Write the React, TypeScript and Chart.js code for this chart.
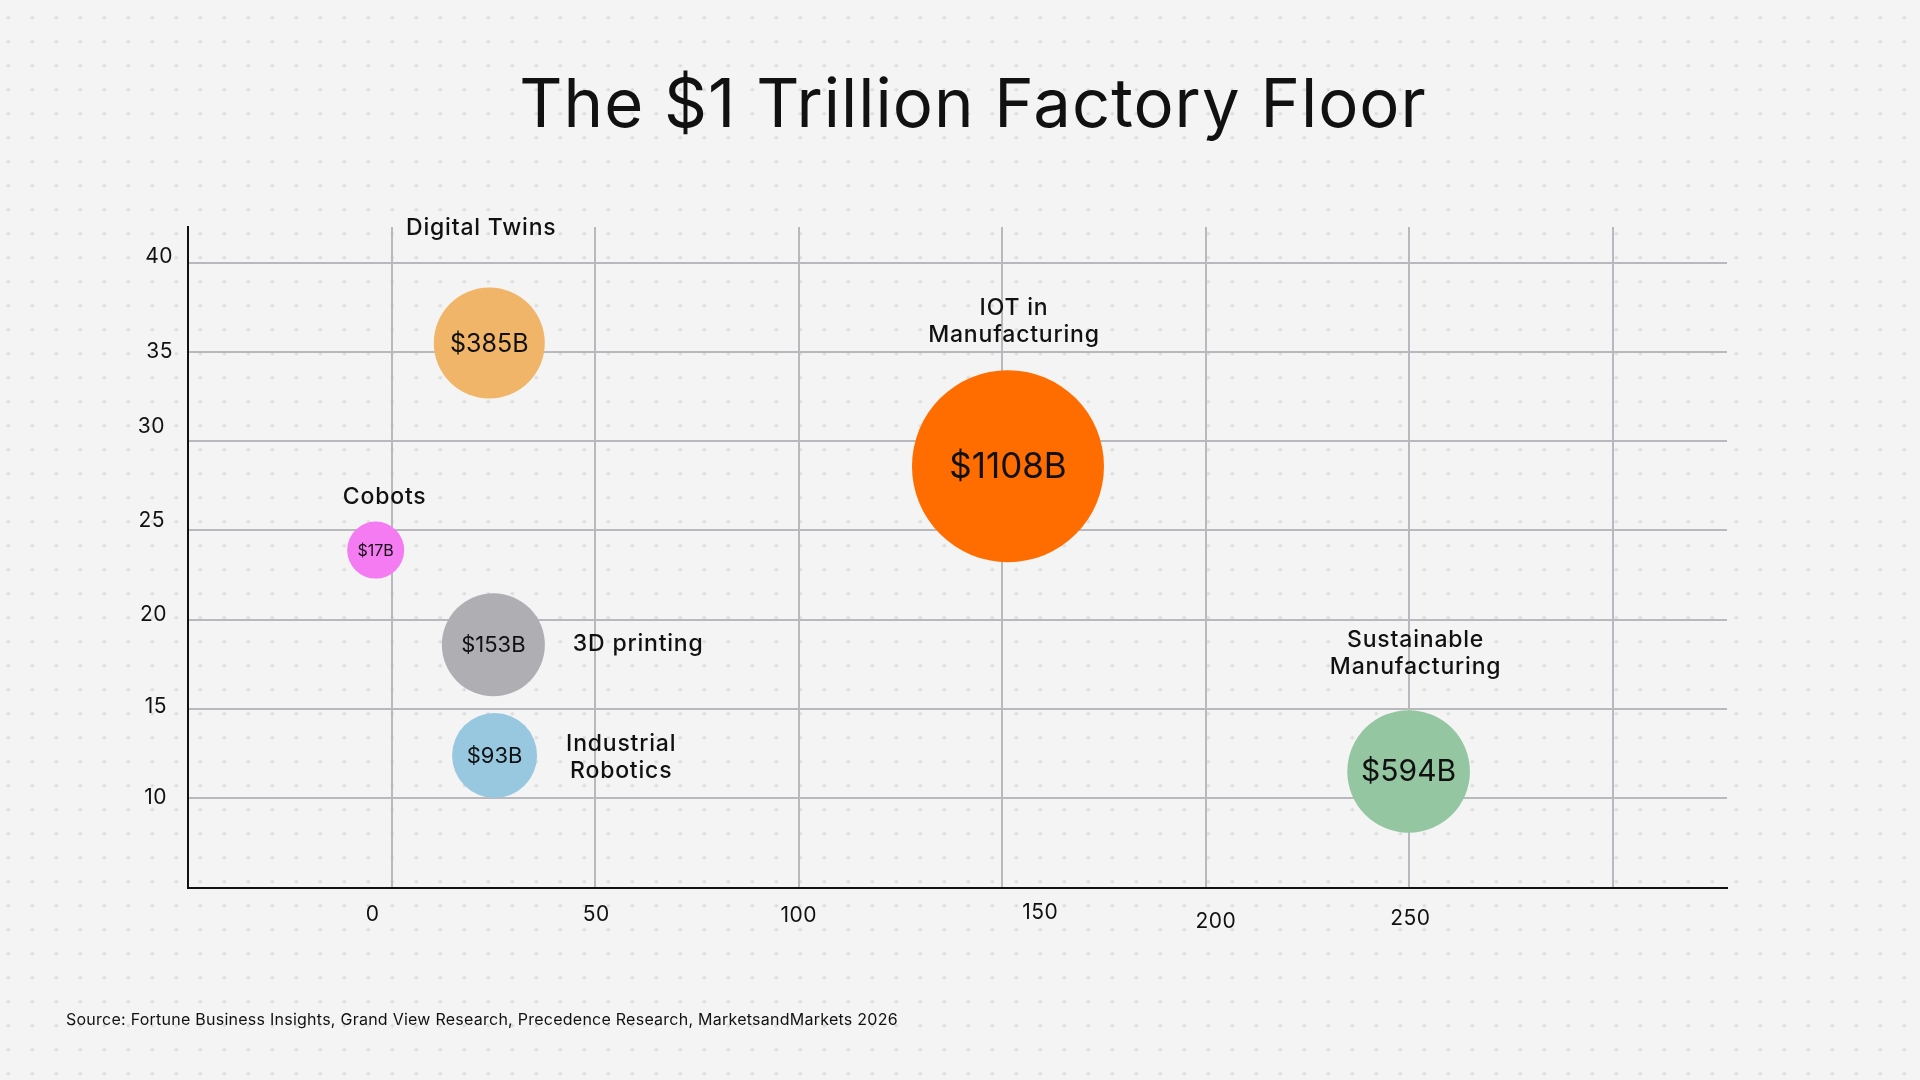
import { useEffect, useRef } from "react";
import { Chart, registerables } from "chart.js";

Chart.register(...registerables);

// ---- data ----
const categories: string[][] = [
  ["Digital Twins"],
  ["IOT in", "Manufacturing"],
  ["Cobots"],
  ["3D printing"],
  ["Industrial", "Robotics"],
  ["Sustainable", "Manufacturing"],
];
const xValues = [24, 151.4, -3.9, 25, 25.3, 249.8];
const yValues = [35.5, 28.6, 23.9, 18.6, 12.4, 11.5];
const marketSizeB = [385, 1108, 17, 153, 93, 594];
const bubbleRadius = [55.5, 96, 28.5, 51.5, 42.5, 61.3];

const xTicks = [0, 50, 100, 150, 200, 250, 300];
const xTickLabels = ["0", "50", "100", "150", "200", "250", ""];
const yTicks = [10, 15, 20, 25, 30, 35, 40];
const yTickLabels = ["10", "15", "20", "25", "30", "35", "40"];

const titleText = "The $1 Trillion Factory Floor";
const sourceText =
  "Source: Fortune Business Insights, Grand View Research, Precedence Research, MarketsandMarkets 2026";

// ---- styling ----
const FONT = "Inter, 'Noto Sans', sans-serif";
const INK = "#111111";
const GRID = "#b9b9bd";
const bubbleColors = ["#F0B568", "#FF6D00", "#F47BF2", "#AEAEB3", "#97C8E0", "#93C6A1"];
const valueFontPx = [25, 35, 16, 22, 22, 30];
type LabelLayout = { side: "top" | "right"; gap: number; dx: number; dy: number };
const labelLayout: LabelLayout[] = [
  { side: "top", gap: 53, dx: -8, dy: 0 },
  { side: "top", gap: 28, dx: 6, dy: 0 },
  { side: "top", gap: 18, dx: 9, dy: 0 },
  { side: "right", gap: 28, dx: 0, dy: -1 },
  { side: "right", gap: 29, dx: 0, dy: 2 },
  { side: "top", gap: 36, dx: 7, dy: 0 },
];
// hand-placed tick label nudges: [dx from gridline, distance below axis]
const xTickNudge = [
  [-19, 27.5],
  [1, 27.5],
  [0, 28.5],
  [38, 24.8],
  [10, 34.2],
  [1, 30.8],
  [0, 28],
];
// [gap left of axis, dy from gridline]
const yTickNudge = [
  [21, -0.8],
  [21, -2],
  [21, -4.7],
  [23, -9.6],
  [23, -15],
  [15, 0],
  [15, -6.5],
];

function setSpacing(ctx: any, px: number) {
  if ("letterSpacing" in ctx) ctx.letterSpacing = `${px}px`;
}

const annotationPlugin = {
  id: "factoryAnnotations",
  afterDatasetsDraw(chart: any) {
    const ctx: CanvasRenderingContext2D = chart.ctx;
    const meta = chart.getDatasetMeta(0);
    ctx.save();
    ctx.fillStyle = INK;
    meta.data.forEach((pt: any, i: number) => {
      const cx = pt.x;
      const cy = pt.y;
      const r = bubbleRadius[i];
      // value inside bubble
      setSpacing(ctx, 0);
      ctx.font = `400 ${valueFontPx[i]}px ${FONT}`;
      ctx.textAlign = "center";
      ctx.textBaseline = "middle";
      ctx.fillText(`$${marketSizeB[i]}B`, cx, cy + 1);

      // category label
      const lines = categories[i];
      const lay = labelLayout[i];
      const lh = 27;
      ctx.font = `500 23px ${FONT}`;
      setSpacing(ctx, 0.8);
      if (lay.side === "top") {
        ctx.textAlign = "center";
        ctx.textBaseline = "alphabetic";
        const last = cy - r - lay.gap;
        lines.forEach((ln, k) => {
          ctx.fillText(ln, cx + lay.dx, last - (lines.length - 1 - k) * lh);
        });
      } else {
        const maxW = Math.max(...lines.map((ln) => ctx.measureText(ln).width));
        const left = cx + r + lay.gap;
        ctx.textAlign = "center";
        ctx.textBaseline = "middle";
        lines.forEach((ln, k) => {
          ctx.fillText(ln, left + maxW / 2, cy + lay.dy + (k - (lines.length - 1) / 2) * lh);
        });
      }
    });
    ctx.restore();
  },
  afterDraw(chart: any) {
    const ctx: CanvasRenderingContext2D = chart.ctx;
    const { chartArea, scales } = chart;
    ctx.save();
    ctx.fillStyle = INK;

    // tick labels
    ctx.font = `400 21px ${FONT}`;
    setSpacing(ctx, 0.5);
    ctx.textBaseline = "middle";
    ctx.textAlign = "center";
    xTicks.forEach((v, i) => {
      const label = xTickLabels[i];
      if (!label) return;
      const px = scales.x.getPixelForValue(v) + xTickNudge[i][0];
      ctx.fillText(label, px, chartArea.bottom + xTickNudge[i][1]);
    });
    ctx.textAlign = "right";
    yTicks.forEach((v, i) => {
      const py = scales.y.getPixelForValue(v) + yTickNudge[i][1];
      ctx.fillText(yTickLabels[i], chartArea.left - yTickNudge[i][0], py);
    });

    // title
    ctx.font = `400 67px ${FONT}`;
    setSpacing(ctx, 1);
    ctx.textAlign = "center";
    ctx.textBaseline = "alphabetic";
    ctx.fillText(titleText, 973, 127);

    // source note
    ctx.font = `400 16px ${FONT}`;
    setSpacing(ctx, 0.25);
    ctx.textAlign = "left";
    ctx.fillText(sourceText, 66, 1025);
    ctx.restore();
  },
};

export default function App() {
  const canvasRef = useRef<HTMLCanvasElement | null>(null);

  useEffect(() => {
    if (!canvasRef.current) return;
    const chart = new Chart(canvasRef.current, {
      type: "bubble",
      data: {
        datasets: [
          {
            data: xValues.map((x, i) => ({ x, y: yValues[i], r: bubbleRadius[i] })),
            backgroundColor: bubbleColors,
            borderWidth: 0,
            hoverBorderWidth: 0,
          },
        ],
      },
      options: {
        animation: false,
        responsive: false,
        maintainAspectRatio: false,
        events: [],
        layout: { padding: { left: 188, right: 193, top: 227, bottom: 192.5 } },
        plugins: {
          legend: { display: false },
          tooltip: { enabled: false },
          title: { display: false },
        },
        scales: {
          x: {
            type: "linear",
            min: -50,
            max: 328,
            afterFit: (s: any) => {
              s.height = 0;
            },
            afterBuildTicks: (s: any) => {
              s.ticks = xTicks.map((value) => ({ value }));
            },
            ticks: { display: false },
            grid: { color: GRID, lineWidth: 2, drawTicks: false },
            border: { display: true, color: INK, width: 2 },
          },
          y: {
            type: "linear",
            min: 5,
            max: 42,
            afterFit: (s: any) => {
              s.width = 0;
            },
            afterBuildTicks: (s: any) => {
              s.ticks = yTicks.map((value) => ({ value }));
            },
            ticks: { display: false },
            grid: { color: GRID, lineWidth: 2, drawTicks: false },
            border: { display: true, color: INK, width: 2 },
          },
        },
      } as any,
      plugins: [annotationPlugin],
    });
    return () => chart.destroy();
  }, []);

  return (
    <div
      style={{
        position: "absolute",
        left: 0,
        top: 0,
        width: 1920,
        height: 1080,
        overflow: "hidden",
        backgroundColor: "#f4f4f4",
        backgroundImage: "radial-gradient(circle, #d9d9d9 1.3px, rgba(0,0,0,0) 1.9px)",
        backgroundSize: "24px 24px",
        backgroundPosition: "-3.7px 5.7px",
      }}
    >
      <canvas ref={canvasRef} width={1920} height={1080} style={{ display: "block" }} />
    </div>
  );
}
